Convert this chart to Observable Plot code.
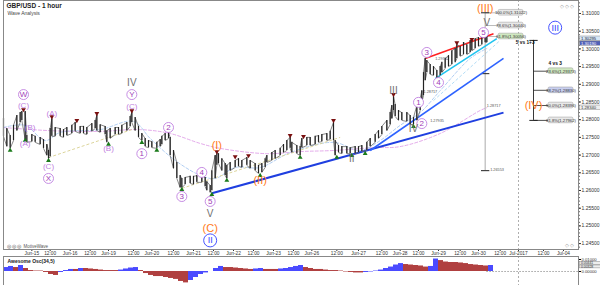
<!DOCTYPE html>
<html><head><meta charset="utf-8">
<script src="https://cdn.jsdelivr.net/npm/d3@7"></script>
<script src="https://cdn.jsdelivr.net/npm/@observablehq/plot@0.6"></script>
<style>
body{margin:0;background:#fff;}
#wrap{position:relative;width:600px;height:285px;overflow:hidden;font-family:"Liberation Sans",Arial,sans-serif;}
#wrap svg{display:block;}
</style></head><body><div id="wrap"></div>
<script>
// ---- price samples (bar index, high, low) ----
const barIdx = [0,2,4,6,8,10,11,13,14,17,19,22,24,26,27,28,29,31,34,36,38,41,43,46,48,50,53,55,56,58,61,62,64,67,69,71,74,76,77,79,81,83,85,87,89,92,94,95,97,99,100,102,104,106,107,109,112,114,116,119,121,122,124,125,127,128,129,131,133,134,136,139,141,143,146,148,151,153,155,157,158,161,163,166,168,170,172,173,176,178,179,182,184,187,189,191,194,196,198,199,201,203,206,208,211,213,215,218,220,223,225,227,230,232,233,234,235,237,239,242,244,246,248,250,251,252,253,254,256,258,260,262,263,265,267,269,271,272,274,276,278,280,281,283,285,287,289,290];
const highs = [1.2803,1.2775,1.2755,1.2784,1.2812,1.2820,1.2823,1.2823,1.2755,1.2758,1.2753,1.2750,1.2744,1.2730,1.2713,1.2775,1.2803,1.2778,1.2775,1.2772,1.2778,1.2784,1.2792,1.2781,1.2781,1.2778,1.2789,1.2798,1.2812,1.2786,1.2781,1.2769,1.2775,1.2778,1.2778,1.2784,1.2792,1.2809,1.2820,1.2806,1.2781,1.2761,1.2747,1.2741,1.2738,1.2736,1.2744,1.2753,1.2761,1.2764,1.2750,1.2713,1.2679,1.2642,1.2634,1.2637,1.2640,1.2640,1.2642,1.2642,1.2637,1.2625,1.2614,1.2656,1.2699,1.2704,1.2704,1.2690,1.2676,1.2671,1.2679,1.2685,1.2690,1.2685,1.2693,1.2685,1.2676,1.2671,1.2676,1.2690,1.2699,1.2707,1.2713,1.2719,1.2730,1.2741,1.2750,1.2736,1.2727,1.2724,1.2747,1.2750,1.2750,1.2753,1.2755,1.2758,1.2761,1.2767,1.2792,1.2741,1.2727,1.2724,1.2724,1.2721,1.2724,1.2724,1.2727,1.2736,1.2747,1.2758,1.2769,1.2781,1.2798,1.2820,1.2840,1.2866,1.2843,1.2826,1.2820,1.2820,1.2812,1.2806,1.2840,1.2860,1.2882,1.2933,1.2973,1.2967,1.2956,1.2950,1.2939,1.2950,1.2962,1.2973,1.2981,1.2995,1.3001,1.3012,1.3007,1.3018,1.3012,1.3024,1.3024,1.3029,1.3032,1.3035,1.3038,1.3035];
const lows = [1.2753,1.2724,1.2719,1.2741,1.2769,1.2792,1.2798,1.2744,1.2736,1.2738,1.2736,1.2730,1.2719,1.2699,1.2690,1.2696,1.2753,1.2753,1.2753,1.2750,1.2755,1.2761,1.2767,1.2761,1.2761,1.2758,1.2767,1.2775,1.2769,1.2764,1.2758,1.2736,1.2747,1.2758,1.2758,1.2761,1.2769,1.2781,1.2792,1.2769,1.2750,1.2741,1.2724,1.2721,1.2721,1.2719,1.2724,1.2730,1.2741,1.2747,1.2699,1.2662,1.2634,1.2608,1.2608,1.2617,1.2620,1.2617,1.2623,1.2623,1.2611,1.2600,1.2594,1.2600,1.2634,1.2671,1.2676,1.2656,1.2642,1.2634,1.2656,1.2665,1.2668,1.2665,1.2671,1.2662,1.2656,1.2648,1.2651,1.2665,1.2679,1.2685,1.2690,1.2699,1.2707,1.2713,1.2719,1.2707,1.2704,1.2699,1.2721,1.2727,1.2727,1.2730,1.2736,1.2738,1.2741,1.2744,1.2741,1.2699,1.2707,1.2704,1.2704,1.2704,1.2704,1.2707,1.2710,1.2713,1.2724,1.2736,1.2747,1.2758,1.2769,1.2786,1.2803,1.2826,1.2809,1.2798,1.2798,1.2795,1.2786,1.2786,1.2798,1.2826,1.2849,1.2868,1.2911,1.2933,1.2928,1.2925,1.2916,1.2925,1.2933,1.2945,1.2950,1.2956,1.2962,1.2973,1.2979,1.2984,1.2984,1.2990,1.2995,1.3001,1.3007,1.3012,1.3018,1.3018];

// ---- moving averages (dashed) ----
const maSlowBars = [0,28,58,82,100,118,130,158,178,198,222,238,262,286,290];
const maSlowVals = [1.2778,1.2769,1.2767,1.2772,1.2761,1.2733,1.2719,1.2704,1.2710,1.2713,1.2721,1.2724,1.2761,1.2826,1.2834];
const maFastBars = [0,13,25,34,58,78,88,103,118,127,139,154,172,198,214,226,238,250,262,280,290];
const maFastVals = [1.2778,1.2784,1.2741,1.2764,1.2772,1.2795,1.2747,1.2685,1.2643,1.2634,1.2665,1.2665,1.2707,1.2736,1.2713,1.2741,1.2784,1.2820,1.2882,1.2973,1.3001];

// ---- trend lines ----
const trendLines = [
  {name:"base", x1:125, y1:1.2592, x2:300, y2:1.2820, color:"#1f3fe0", w:2},
  {name:"steep", x1:220, y1:1.2713, x2:300, y2:1.2973, color:"#2e63ff", w:1.6},
  {name:"top", x1:253, y1:1.2973, x2:294, y2:1.3043, color:"#ff2020", w:1.6},
  {name:"lower", x1:259, y1:1.2916, x2:296, y2:1.3029, color:"#20c4f0", w:1.6}
];
const dashedChannel = [{x1:258, y1:1.2854, x2:298, y2:1.3024}];
const tanLines = [
  {x1:27, y1:1.2693, x2:77, y2:1.2772},
  {x1:107, y1:1.2606, x2:202, y2:1.2750}
];

// ---- swing markers ----
const highMarkBars = [12,29,44,56,77,99,128,139,147,172,180,198,234,254,272,281,287];
const highMarkVals = [1.2823,1.2803,1.2792,1.2812,1.2820,1.2764,1.2704,1.2690,1.2693,1.2750,1.2747,1.2792,1.2866,1.2976,1.3012,1.3021,1.3032];
const lowMarkBars = [4,13,27,63,83,92,107,125,134,154,178,200,209,217,246];
const lowMarkVals = [1.2719,1.2747,1.2690,1.2736,1.2741,1.2719,1.2608,1.2594,1.2634,1.2648,1.2699,1.2699,1.2704,1.2710,1.2786];

// ---- wave labels ----
const circledPurple = [
  {t:"W",x:12,y:1.2871},{t:"Y",x:77,y:1.2871},{t:"X",x:27,y:1.2634},
  {t:"1",x:83,y:1.2704},{t:"2",x:99,y:1.2778},{t:"3",x:107,y:1.2583},
  {t:"4",x:119,y:1.2651},{t:"5",x:124,y:1.2569},
  {t:"1",x:249,y:1.2849},{t:"2",x:251,y:1.2789},{t:"3",x:254,y:1.2990},
  {t:"4",x:261,y:1.2905},{t:"5",x:288,y:1.3046}
];
const parenPurple = [
  {t:"(C)",x:12,y:1.2840},{t:"(B)",x:16,y:1.2778},{t:"(A)",x:13,y:1.2733},
  {t:"(A)",x:29,y:1.2817},{t:"(C)",x:27,y:1.2668},{t:"(B)",x:63,y:1.2719},
  {t:"(C)",x:77,y:1.2837}
];
const grayRoman = [
  {t:"IV",x:77,y:1.2903},{t:"V",x:124,y:1.2535},{t:"II",x:209,y:1.2690},
  {t:"III",x:234,y:1.2883},{t:"IV",x:246,y:1.2775},{t:"V",x:290,y:1.3075}
];
const orangeLabels = [
  {t:"(C)",x:124,y:1.2493},{t:"(I)",x:128,y:1.2727},{t:"(II)",x:154,y:1.2628},
  {t:"(III)",x:289,y:1.3114},{t:"(IV)",x:318,y:1.2840}
];
const blueCircled = [{t:"II",x:124,y:1.2459},{t:"III",x:331,y:1.3060}];

// ---- fibonacci tools ----
const fibLeftBar = 289;
const fibLeftTop = 1.3102, fibLeftBottom = 1.2656;
const fibLeftLevels = [
  {t:"100.0%(1.31022)", y:1.3102, fill:"#e8e8e8"},
  {t:"78.6%(1.30440)", y:1.3066, fill:"#e8e8e8"},
  {t:"61.8%(1.30056)", y:1.3035, fill:"#cfe8c0"}
];
const fibRightBar = 318;
const fibRightTop = 1.3024;
const fibRightLevels = [
  {t:"23.6%(1.29373)", y:1.2937, fill:"#cfe8c0"},
  {t:"38.2%(1.28830)", y:1.2883, fill:"#c8cff0"},
  {t:"50.0%(1.28396)", y:1.2840, fill:"#e8e8e8"},
  {t:"61.8%(1.27962)", y:1.2798, fill:"#e8e8e8"}
];
const priceTags = [
  {t:"1.29732", x:259, y:1.2973},{t:"1.28717", x:252, y:1.2880},
  {t:"1.27935", x:256, y:1.2798},{t:"1.28717", x:290, y:1.2840},
  {t:"1.26553", x:292, y:1.2659}
];
const axisTags = [
  {t:"1.30295", y:1.3029, fill:"#d6e6f6", color:"#223"},
  {t:"1.30190", y:1.3015, fill:"#5060b8", color:"#fff"},
  {t:"1.28340", y:1.2834, fill:"#eeeeee", color:"#333"}
];
const aoTags = [
  {t:"0.00441", y:0.0068, fill:"#eeeeee"},
  {t:"0.00328", y:0.0038, fill:"#eeeeee"}
];
const futureBar = 309;

// ---- axes ----
const xTickBars = [17,28,40,52,63,78,89,102,114,126,138,150,162,174,185,200,213,227,238,249,261,274,285,298,309,324,336];
const xTickLabels = ["Jun-15","12:00","Jun-16","12:00","Jun-19","12:00","Jun-20","12:00","Jun-21","12:00","Jun-22","12:00","Jun-23","12:00","Jun-26","12:00","Jun-27","12:00","Jun-28","12:00","Jun-29","12:00","Jun-30","12:00","Jul-2017","12:00","Jul-04"];
const yTicks = [1.245,1.25,1.255,1.26,1.265,1.27,1.275,1.28,1.285,1.29,1.295,1.3,1.305,1.31];

// ---- Awesome oscillator (every 3 bars) ----
const aoVals = [0.0033,0.0042,0.0033,0.0050,0.0025,0.0008,0.0004,0.0004,-0.0008,-0.0025,-0.0033,-0.0008,0.0008,0.0017,0.0017,0.0025,0.0025,0.0021,0.0017,0.0012,0.0008,0.0008,0.0008,0.0012,0.0021,0.0029,0.0033,0.0008,-0.0017,-0.0033,-0.0042,-0.0042,-0.0050,-0.0058,-0.0066,-0.0083,-0.0095,-0.0075,-0.0050,-0.0025,-0.0012,0.0000,0.0025,0.0042,0.0033,0.0033,0.0029,0.0025,0.0021,0.0017,0.0021,0.0025,0.0017,0.0017,0.0017,0.0021,0.0025,0.0033,0.0042,0.0050,0.0033,0.0025,0.0017,0.0017,0.0012,0.0008,0.0008,0.0004,-0.0004,-0.0008,-0.0012,-0.0012,-0.0008,-0.0004,0.0004,0.0012,0.0025,0.0037,0.0054,0.0066,0.0058,0.0054,0.0050,0.0046,0.0037,0.0042,0.0104,0.0091,0.0079,0.0075,0.0075,0.0071,0.0066,0.0058,0.0054,0.0050,0.0046,0.0050];
const aoStep = 3;

// ================= build =================
const FONT = '"Liberation Sans", Arial, sans-serif';
const xDomain = [0, 345];
const price = barIdx.map((b,i)=>({b, hi:highs[i], lo:lows[i]}));
const zig = price.flatMap((d,i)=> i%2 ? [{b:d.b, v:d.lo},{b:d.b, v:d.hi}] : [{b:d.b, v:d.hi},{b:d.b, v:d.lo}]);
const maSlow = maSlowBars.map((b,i)=>({b, v:maSlowVals[i]}));
const maFast = maFastBars.map((b,i)=>({b, v:maFastVals[i]}));
const hiMarks = highMarkBars.map((b,i)=>({b, v:highMarkVals[i]}));
const loMarks = lowMarkBars.map((b,i)=>({b, v:lowMarkVals[i]}));
const tickLabelMap = new Map(xTickBars.map((b,i)=>[b, xTickLabels[i]]));
const minorY = d3.range(1.244, 1.3135, 0.001);

const boxW = 15, boxH = 0.0008;
const leftBoxes = fibLeftLevels.map(d=>({...d, x1:fibLeftBar+8, x2:fibLeftBar+8+boxW}));
const rightBoxes = fibRightLevels.map(d=>({...d, x1:fibRightBar+9, x2:fibRightBar+9+boxW}));
const hTick = (vals, bar, half) => vals.map(v=>({x1:bar-half, x2:bar+half, y:v}));

const main = Plot.plot({
  width: 600, height: 256,
  marginLeft: 3, marginRight: 22, marginTop: 0, marginBottom: 7,
  style: {fontFamily: FONT, fontSize: "5px", background: "#fff", color: "#333"},
  x: {type: "linear", domain: xDomain, axis: null},
  y: {type: "linear", domain: [1.24333, 1.31367], axis: null},
  marks: [
    Plot.ruleX([futureBar], {stroke: "#999", strokeDasharray: "2,2", strokeWidth: 0.8}),
    // moving averages
    Plot.line(maSlow, {x:"b", y:"v", stroke:"#e0a0e8", strokeDasharray:"3,2", strokeWidth:0.9, curve:"catmull-rom"}),
    Plot.line(maFast, {x:"b", y:"v", stroke:"#a8c8f0", strokeDasharray:"3,2", strokeWidth:0.9, curve:"catmull-rom"}),
    Plot.link(tanLines, {x1:"x1", y1:"y1", x2:"x2", y2:"y2", stroke:"#d8d090", strokeDasharray:"3,2", strokeWidth:0.9}),
    Plot.link(dashedChannel, {x1:"x1", y1:"y1", x2:"x2", y2:"y2", stroke:"#a8d8f4", strokeDasharray:"3,2", strokeWidth:0.9}),
    // fib tools
    Plot.ruleX([fibLeftBar], {y1: fibLeftTop, y2: fibLeftBottom, stroke:"#aaa", strokeWidth:1}),
    Plot.link(fibLeftLevels, {x1: fibLeftBar, x2: fibLeftBar+8, y1:"y", y2:"y", stroke:"#aaa", strokeWidth:0.8}),
    Plot.ruleX([fibRightBar], {y1: fibRightTop, y2: fibRightLevels[3].y, stroke:"#222", strokeWidth:0.9}),
    Plot.link(fibRightLevels, {x1: fibRightBar, x2: fibRightBar+9, y1:"y", y2:"y", stroke:"#222", strokeWidth:0.8}),
    Plot.link(hTick([fibRightTop, fibRightLevels[3].y], fibRightBar, 2.5), {x1:"x1", x2:"x2", y1:"y", y2:"y", stroke:"#222", strokeWidth:1}),
    Plot.link(hTick([fibLeftTop, 1.2930, fibLeftBottom], fibLeftBar, 2.5), {x1:"x1", x2:"x2", y1:"y", y2:"y", stroke:"#222", strokeWidth:1}),
    Plot.rect(leftBoxes, {x1:"x1", x2:"x2", y1: d=>d.y-boxH, y2: d=>d.y+boxH, fill:"fill", stroke:"#999", strokeWidth:0.5, rx:1.5}),
    Plot.text(leftBoxes, {x: d=>(d.x1+d.x2)/2, y:"y", text:"t", fontSize:4.2, fill:"#333"}),
    Plot.rect(rightBoxes, {x1:"x1", x2:"x2", y1: d=>d.y-boxH, y2: d=>d.y+boxH, fill:"fill", stroke:"#999", strokeWidth:0.5, rx:1.5}),
    Plot.text(rightBoxes, {x: d=>(d.x1+d.x2)/2, y:"y", text:"t", fontSize:4.2, fill:"#333"}),
    Plot.text(["5 vs 1+3"], {x: 313, y: 1.3018, text: d=>d, fontSize:4.8, fontWeight:"bold", fill:"#111"}),
    Plot.text(["4 vs 3"], {x: 331, y: 1.2959, text: d=>d, fontSize:4.8, fontWeight:"bold", fill:"#111"}),
    Plot.text(priceTags, {x:"x", y:"y", text:"t", fontSize:3.8, fill:"#555", textAnchor:"start"}),
    // trend lines
    Plot.link(trendLines, {x1:"x1", y1:"y1", x2:"x2", y2:"y2", stroke:"color", strokeWidth:"w"}),
    // price bars
    Plot.line(zig, {x:"b", y:"v", stroke:"#6a6a6a", strokeWidth:0.8}),
    Plot.ruleX(price, {x:"b", y1:"lo", y2:"hi", stroke:"#222", strokeWidth:1.2}),
    // swing markers
    Plot.dot(hiMarks, {x:"b", y:"v", symbol:"triangle", rotate:180, r:1.8, fill:"#7a1010", dy:-2}),
    Plot.dot(loMarks, {x:"b", y:"v", symbol:"triangle", r:1.8, fill:"#1a7a1a", dy:2}),
    // wave labels
    Plot.dot(circledPurple, {x:"x", y:"y", r:5, stroke:"#c080e0", strokeWidth:0.9, fill:"#fff"}),
    Plot.text(circledPurple, {x:"x", y:"y", text:"t", fill:"#a03cb8", fontSize:8}),
    Plot.text(parenPurple, {x:"x", y:"y", text:"t", fill:"#c080e0", fontSize:8}),
    Plot.text(grayRoman, {x:"x", y:"y", text:"t", fill:"#707070", fontSize:10}),
    Plot.text(orangeLabels, {x:"x", y:"y", text:"t", fill:"#ff7a1a", fontSize:11}),
    Plot.dot(blueCircled, {x:"x", y:"y", r:6.5, stroke:"#3040ff", strokeWidth:0.9, fill:"#fff"}),
    Plot.text(blueCircled, {x:"x", y:"y", text:"t", fill:"#3040ff", fontSize:9}),
    // axes
    Plot.axisY(minorY, {anchor:"right", tickSize:1, tickFormat:()=>"", stroke:"#666"}),
    Plot.axisY(yTicks, {anchor:"right", tickSize:2, tickPadding:1, tickFormat:d=>d.toFixed(5), fontSize:5, fill:"#333"}),
    Plot.rect(axisTags, {x1:346, x2:358.5, y1:d=>d.y-0.0006, y2:d=>d.y+0.0006, fill:"fill", stroke:"#888", strokeWidth:0.5}),
    Plot.text(axisTags, {x:346.5, y:"y", text:"t", fill:"color", fontSize:4.2, textAnchor:"start"}),
    Plot.axisX(xTickBars, {anchor:"bottom", tickSize:2, tickPadding:0, tickFormat:d=>tickLabelMap.get(d), fontSize:4.8, fill:"#333"}),
    Plot.frame({stroke:"#888", strokeWidth:1}),
    Plot.text(["GBP/USD - 1 hour"], {frameAnchor:"top-left", dx:3, dy:3, text:d=>d, fontSize:6.5, fontWeight:"bold", fill:"#222", textAnchor:"start", lineAnchor:"top"}),
    Plot.text(["Wave Analysis"], {frameAnchor:"top-left", dx:4, dy:11, text:d=>d, fontSize:5, fill:"#444", textAnchor:"start", lineAnchor:"top"}),
    Plot.text(["\u25CE \u25CE \u25CE  MotiveWave"], {frameAnchor:"bottom-left", dx:3, dy:-2, text:d=>d, fontSize:4.5, fill:"#555", textAnchor:"start"}),
    Plot.text(["\u25C7 \u25C7 \u25C7"], {frameAnchor:"top-right", dx:-4, dy:4, text:d=>d, fontSize:5, fill:"#999", textAnchor:"end", lineAnchor:"top"}),
    Plot.text(["\u25C7 \u25C7"], {frameAnchor:"bottom-right", dx:-4, dy:-3, text:d=>d, fontSize:5, fill:"#999", textAnchor:"end"})
  ]
});

const ao = aoVals.map((v,i)=>({b:i*aoStep, v, up: i===0 ? true : v > aoVals[i-1]}));
const aoPlot = Plot.plot({
  width: 600, height: 29,
  marginLeft: 3, marginRight: 22, marginTop: 0, marginBottom: 0,
  style: {fontFamily: FONT, fontSize: "4.6px", background: "#fff"},
  x: {type: "linear", domain: xDomain, axis: null},
  y: {type: "linear", domain: [-0.01167, 0.0125], axis: null},
  marks: [
    Plot.ruleX([futureBar], {stroke:"#999", strokeDasharray:"2,2", strokeWidth:0.8}),
    Plot.ruleY([0], {x1: 290, x2: 345, stroke:"#888", strokeDasharray:"1.5,1.5", strokeWidth:0.8}),
    Plot.rectY(ao, {x1:"b", x2: d=>d.b+aoStep, y1:0, y2:"v", fill: d=>d.up ? "#4a4aff" : "#b04040"}),
    Plot.axisY([0, 0.01], {anchor:"right", tickSize:2, tickPadding:1, tickFormat:d=>d.toFixed(5), fontSize:4.2, fill:"#333"}),
    Plot.rect(aoTags, {x1:346, x2:358.5, y1:d=>d.y-0.0012, y2:d=>d.y+0.0012, fill:"fill", stroke:"#888", strokeWidth:0.5}),
    Plot.text(aoTags, {x:346.5, y:"y", text:"t", fill:"#333", fontSize:3.4, textAnchor:"start"}),
    Plot.frame({stroke:"#888", strokeWidth:1}),
    Plot.text(["Awesome Osc(34,5)"], {frameAnchor:"top-left", dx:4, dy:3, text:d=>d, fontSize:5, fontWeight:"bold", fill:"#222", textAnchor:"start", lineAnchor:"top"})
  ]
});

const wrap = document.getElementById("wrap");
wrap.appendChild(main);
wrap.appendChild(aoPlot);
</script>
</body></html>
